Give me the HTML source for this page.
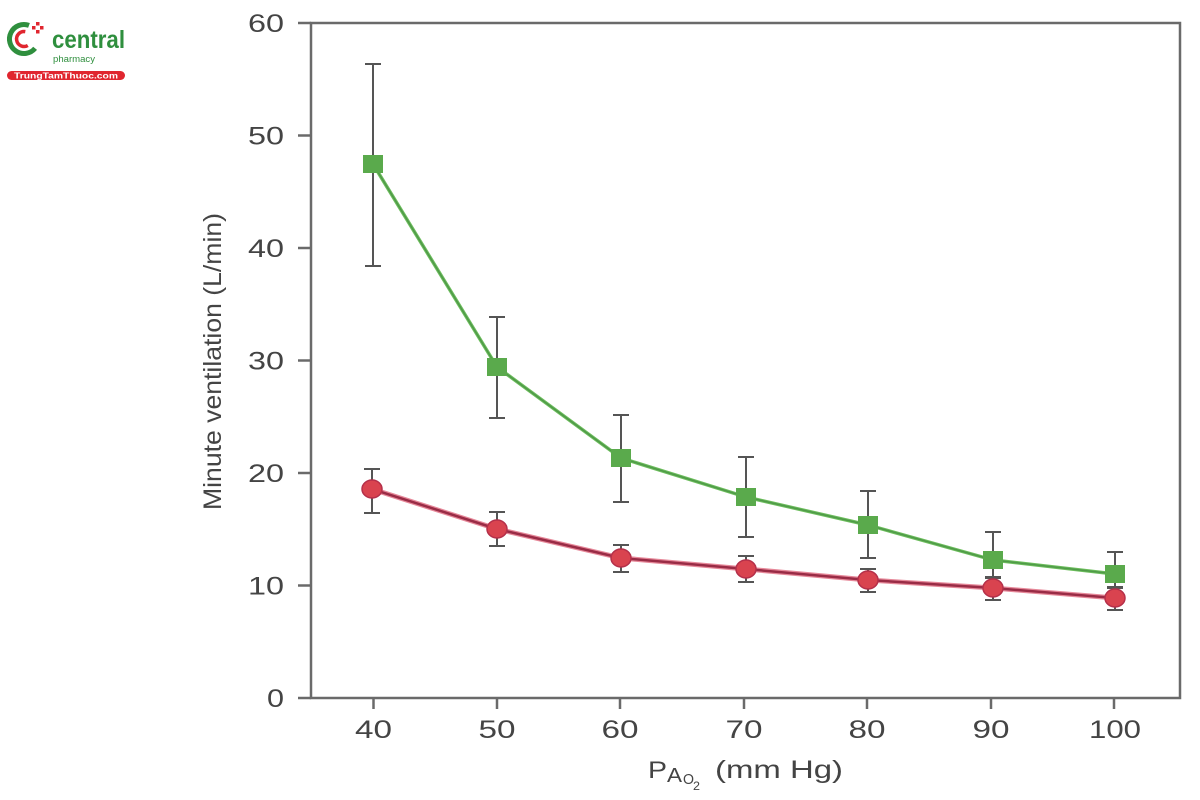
<!DOCTYPE html>
<html>
<head>
<meta charset="utf-8">
<style>
  html,body{margin:0;padding:0;background:#fff;}
  svg{display:block;}
  text{font-family:"Liberation Sans", Arial, sans-serif;}
</style>
</head>
<body>
<svg width="1200" height="800" viewBox="0 0 1200 800" xmlns="http://www.w3.org/2000/svg">
  <rect width="1200" height="800" fill="#fff"/>

  <!-- Logo -->
  <g>
    <path d="M 29 25.4 A 14.5 14.5 0 1 0 35.1 48.3" fill="none" stroke="#2f8f3e" stroke-width="5"/>
    <path d="M 25.3 31.6 A 7.5 7.5 0 1 0 27.8 45.5" fill="none" stroke="#e0262f" stroke-width="3.5"/>
    <rect x="32" y="26" width="3.5" height="3.5" fill="#e0262f"/>
    <rect x="36" y="22" width="3.5" height="3.5" fill="#e0262f"/>
    <rect x="36" y="30" width="3.5" height="3.5" fill="#e0262f"/>
    <rect x="40" y="26" width="3.5" height="3.5" fill="#e0262f"/>
    <text x="52" y="48" font-size="25" fill="#2f8f3e" font-weight="bold" textLength="73" lengthAdjust="spacingAndGlyphs">central</text>
    <text x="53" y="62" font-size="9" fill="#2f8f3e" textLength="42" lengthAdjust="spacingAndGlyphs">pharmacy</text>
    <rect x="7" y="71" width="118" height="9" rx="4.5" fill="#e0262f"/>
    <text x="66" y="78.5" font-size="8" fill="#fff" text-anchor="middle" font-weight="bold" textLength="104" lengthAdjust="spacingAndGlyphs">TrungTamThuoc.com</text>
  </g>

  <!-- Axes box -->
  <rect x="311" y="23" width="869" height="675" fill="none" stroke="#6a6a6a" stroke-width="2.5"/>

  <!-- Y ticks -->
  <g stroke="#6a6a6a" stroke-width="2.5">
    <line x1="298" y1="698" x2="311" y2="698"/>
    <line x1="298" y1="585.5" x2="311" y2="585.5"/>
    <line x1="298" y1="473" x2="311" y2="473"/>
    <line x1="298" y1="360.5" x2="311" y2="360.5"/>
    <line x1="298" y1="248" x2="311" y2="248"/>
    <line x1="298" y1="135.5" x2="311" y2="135.5"/>
    <line x1="298" y1="23" x2="311" y2="23"/>
  </g>
  <g font-size="25" fill="#444" lengthAdjust="spacingAndGlyphs">
    <text x="267" y="707" textLength="17" lengthAdjust="spacingAndGlyphs">0</text>
    <text x="248" y="594.5" textLength="36" lengthAdjust="spacingAndGlyphs">10</text>
    <text x="248" y="482" textLength="36" lengthAdjust="spacingAndGlyphs">20</text>
    <text x="248" y="369.5" textLength="36" lengthAdjust="spacingAndGlyphs">30</text>
    <text x="248" y="257" textLength="36" lengthAdjust="spacingAndGlyphs">40</text>
    <text x="248" y="144.5" textLength="36" lengthAdjust="spacingAndGlyphs">50</text>
    <text x="248" y="32" textLength="36" lengthAdjust="spacingAndGlyphs">60</text>
  </g>

  <!-- X ticks -->
  <g stroke="#6a6a6a" stroke-width="2.5">
    <line x1="373.5" y1="698" x2="373.5" y2="709"/>
    <line x1="497" y1="698" x2="497" y2="709"/>
    <line x1="620" y1="698" x2="620" y2="709"/>
    <line x1="744" y1="698" x2="744" y2="709"/>
    <line x1="867" y1="698" x2="867" y2="709"/>
    <line x1="991" y1="698" x2="991" y2="709"/>
    <line x1="1114" y1="698" x2="1114" y2="709"/>
  </g>
  <g font-size="25" fill="#444">
    <text x="355" y="738" textLength="37" lengthAdjust="spacingAndGlyphs">40</text>
    <text x="478.5" y="738" textLength="37" lengthAdjust="spacingAndGlyphs">50</text>
    <text x="601.5" y="738" textLength="37" lengthAdjust="spacingAndGlyphs">60</text>
    <text x="725.5" y="738" textLength="37" lengthAdjust="spacingAndGlyphs">70</text>
    <text x="848.5" y="738" textLength="37" lengthAdjust="spacingAndGlyphs">80</text>
    <text x="972.5" y="738" textLength="37" lengthAdjust="spacingAndGlyphs">90</text>
    <text x="1089" y="738" textLength="52" lengthAdjust="spacingAndGlyphs">100</text>
  </g>

  <!-- Axis titles -->
  <g fill="#444">
    <text x="648" y="778" font-size="24" textLength="19" lengthAdjust="spacingAndGlyphs">P</text>
    <text x="667" y="782" font-size="20" textLength="15" lengthAdjust="spacingAndGlyphs">A</text>
    <text x="683" y="784" font-size="15" textLength="11" lengthAdjust="spacingAndGlyphs">O</text>
    <text x="693" y="790" font-size="12" textLength="7" lengthAdjust="spacingAndGlyphs">2</text>
    <text x="715" y="778" font-size="25" textLength="128" lengthAdjust="spacingAndGlyphs">(mm Hg)</text>
  </g>
  <text transform="translate(221,361.5) rotate(-90)" x="-148.5" y="0" font-size="25" fill="#444" textLength="297" lengthAdjust="spacingAndGlyphs">Minute ventilation (L/min)</text>

  <!-- Error bars -->
  <g stroke="#555" stroke-width="2" fill="none">
    <!-- green -->
    <path d="M373 64 V266 M365 64 H381 M365 266 H381"/>
    <path d="M497 317 V418 M489 317 H505 M489 418 H505"/>
    <path d="M621 415 V502 M613 415 H629 M613 502 H629"/>
    <path d="M746 457 V537 M738 457 H754 M738 537 H754"/>
    <path d="M868 491 V558 M860 491 H876 M860 558 H876"/>
    <path d="M993 532 V577 M985 532 H1001 M985 577 H1001"/>
    <path d="M1115 552 V588 M1107 552 H1123 M1107 588 H1123"/>
    <!-- red -->
    <path d="M372 469 V513 M364 469 H380 M364 513 H380"/>
    <path d="M497 512 V546 M489 512 H505 M489 546 H505"/>
    <path d="M621 545 V572 M613 545 H629 M613 572 H629"/>
    <path d="M746 556 V582 M738 556 H754 M738 582 H754"/>
    <path d="M868 569 V592 M860 569 H876 M860 592 H876"/>
    <path d="M993 578 V600 M985 578 H1001 M985 600 H1001"/>
    <path d="M1115 587 V610 M1107 587 H1123 M1107 610 H1123"/>
  </g>

  <!-- Green line -->
  <polyline points="373,164 497,367 621,458 746,497 868,525 993,560 1115,574" fill="none" stroke="#6cbd5c" stroke-width="3.5" stroke-linejoin="round"/>
  <polyline points="373,164 497,367 621,458 746,497 868,525 993,560 1115,574" fill="none" stroke="#4f9a48" stroke-width="1.5" stroke-linejoin="round"/>

  <!-- Red line -->
  <polyline points="372,489 497,529 621,558 746,569 868,580 993,588 1115,598" fill="none" stroke="#e06a80" stroke-width="5" stroke-linejoin="round" opacity="0.8"/>
  <polyline points="372,489 497,529 621,558 746,569 868,580 993,588 1115,598" fill="none" stroke="#9a2c46" stroke-width="2.5" stroke-linejoin="round"/>

  <!-- Green squares -->
  <g fill="#5aaa4c">
    <rect x="363" y="155" width="20" height="18"/>
    <rect x="487" y="358" width="20" height="18"/>
    <rect x="611" y="449" width="20" height="18"/>
    <rect x="736" y="488" width="20" height="18"/>
    <rect x="858" y="516" width="20" height="18"/>
    <rect x="983" y="551" width="20" height="18"/>
    <rect x="1105" y="565" width="20" height="18"/>
  </g>

  <!-- Red circles -->
  <g fill="#d9434f" stroke="#b5304a" stroke-width="1.5">
    <ellipse cx="372" cy="489" rx="10" ry="9"/>
    <ellipse cx="497" cy="529" rx="10" ry="9"/>
    <ellipse cx="621" cy="558" rx="10" ry="9"/>
    <ellipse cx="746" cy="569" rx="10" ry="9"/>
    <ellipse cx="868" cy="580" rx="10" ry="9"/>
    <ellipse cx="993" cy="588" rx="10" ry="9"/>
    <ellipse cx="1115" cy="598" rx="10" ry="9"/>
  </g>
</svg>
</body>
</html>
